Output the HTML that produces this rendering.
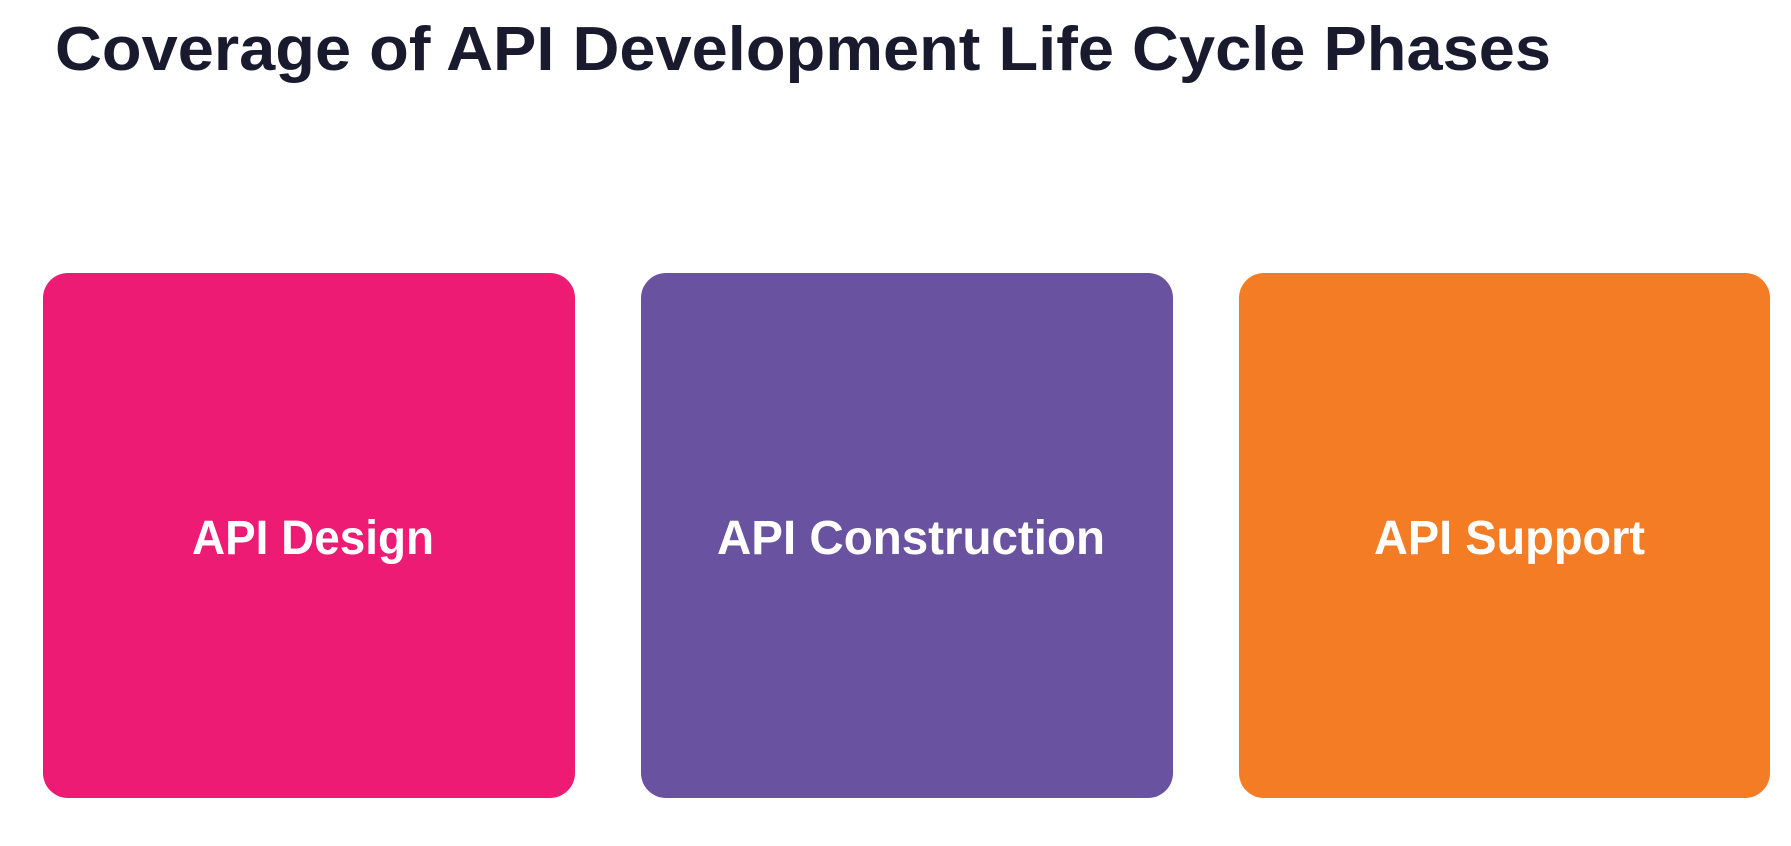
<!DOCTYPE html>
<html><head><meta charset="utf-8"><style>
html,body{margin:0;padding:0;background:#fff;}
svg{display:block;}
</style></head><body>
<svg width="1791" height="846" viewBox="0 0 1791 846" xmlns="http://www.w3.org/2000/svg">
<rect width="1791" height="846" fill="#fff"/>
<text x="55" y="70" font-family="Liberation Sans, sans-serif" font-weight="bold" font-size="62" fill="#1a1a2e" textLength="1496" lengthAdjust="spacingAndGlyphs">Coverage of API Development Life Cycle Phases</text>
<rect x="43" y="273" width="532" height="525" rx="25" fill="#ED1B74"/>
<rect x="641" y="273" width="532" height="525" rx="25" fill="#6952A0"/>
<rect x="1239" y="273" width="531" height="525" rx="25" fill="#F47C24"/>
<g font-family="Liberation Sans, sans-serif" font-weight="bold" font-size="48" fill="#fff">
<text x="192" y="554" textLength="242" lengthAdjust="spacingAndGlyphs">API Design</text>
<text x="717" y="554" textLength="388" lengthAdjust="spacingAndGlyphs">API Construction</text>
<text x="1374" y="554" textLength="271" lengthAdjust="spacingAndGlyphs">API Support</text>
</g>
</svg>
</body></html>
